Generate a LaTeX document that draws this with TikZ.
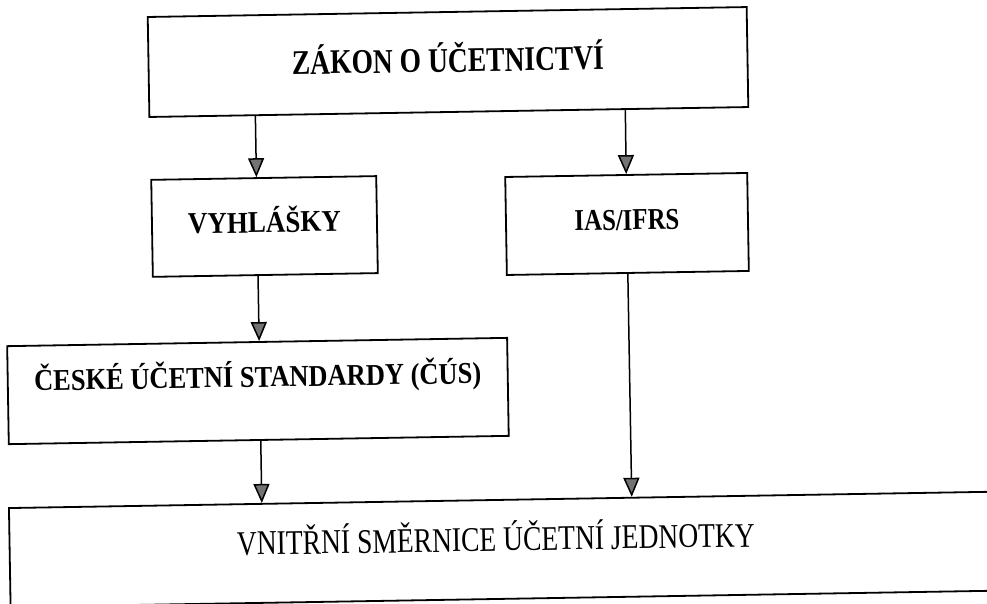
\documentclass[tikz,border=0pt]{standalone}
\usepackage{fontspec}
\setmainfont{Liberation Serif}
\usetikzlibrary{arrows.meta}
\begin{document}
\begin{tikzpicture}[x=1pt,y=-1pt,
  box/.style={draw=black, line width=1.8pt, rectangle, inner sep=0pt, transform shape},
  lbl/.style={font=\fontsize{27}{32}\selectfont\bfseries, inner sep=0pt, anchor=base, transform shape},
  arr/.style={line width=1.5pt, -{Triangle[length=19pt,width=16pt,fill=black!55]}}]
\useasboundingbox (0,0) rectangle (987,604);
\clip (0,0) rectangle (987,604);
\fill[white] (0,0) rectangle (987,604);
\begin{scope}[rotate around={0.95:(493,302)}]
  \node[box, minimum width=599pt, minimum height=100pt] (top) at (452,61.3) {};
  \node[lbl, xscale=1.02, yscale=1.28] (toptext) at ([yshift=-10pt]top.center) {ZÁKON O ÚČETNICTVÍ};
  \node[box, minimum width=225pt, minimum height=97pt] (vy) at (265.8,222.7) {};
  \node[lbl, yscale=1.12] (vytext) at ([yshift=-6pt]vy.center) {VYHLÁŠKY};
  \node[box, minimum width=242pt, minimum height=98pt] (ias) at (628.3,226.2) {};
  \node[lbl, xscale=0.92, yscale=1.12] (iastext) at ([yshift=-6pt]ias.center) {IAS/IFRS};
  \node[box, minimum width=500pt, minimum height=98pt] (cus) at (256.5,387.1) {};
  \node[lbl, xscale=0.98, yscale=1.12] (custext) at ([yshift=4pt]cus.center) {ČESKÉ ÚČETNÍ STANDARDY (ČÚS)};
  \node[box, minimum width=1014.4pt, minimum height=99pt] (bot) at (512.8,549.5) {};
  \node[lbl, font=\fontsize{27}{32}\selectfont\mdseries, xscale=1.02, yscale=1.28] (bottext) at (492,551) {VNITŘNÍ SMĚRNICE ÚČETNÍ JEDNOTKY};
  \draw[arr] ([xshift=-193.5pt]top.south) -- ([xshift=-7.3pt]vy.north);
  \draw[arr] ([xshift=176.5pt]top.south) -- (ias.north);
  \draw[arr] ([xshift=-7.3pt]vy.south) -- ([xshift=2pt]cus.north);
  \draw[arr] ([xshift=2pt]cus.south) -- ([xshift=-254.3pt]bot.north);
  \draw[arr] (ias.south) -- ([xshift=115.7pt]bot.north);
\end{scope}
\end{tikzpicture}
\end{document}
